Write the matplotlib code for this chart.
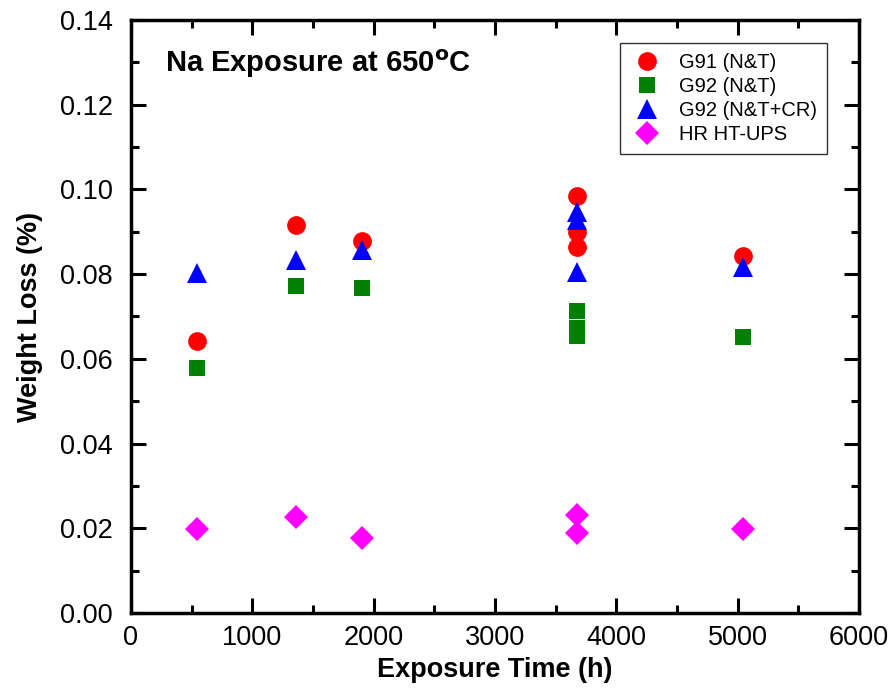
import numpy as np
import matplotlib
matplotlib.use('Agg')
import matplotlib.pyplot as plt
from matplotlib.ticker import MultipleLocator

plt.rcParams['font.family'] = ['Liberation Sans', 'DejaVu Sans']

# data
g91_t = [544, 1360, 1904, 3677, 3677, 3677, 5045]
g91_w = [0.0642, 0.0916, 0.0878, 0.0984, 0.0899, 0.0864, 0.0843]

g92_t = [544, 1360, 1904, 3677, 3677, 3677, 5045]
g92_w = [0.0578, 0.0772, 0.0767, 0.0713, 0.0673, 0.0653, 0.0651]

g92cr_t = [544, 1360, 1904, 3677, 3677, 3677, 5045]
g92cr_w = [0.0802, 0.0833, 0.0857, 0.0947, 0.0928, 0.0805, 0.0817]

ups_t = [544, 1360, 1904, 3677, 3677, 5045]
ups_w = [0.0198, 0.0227, 0.0177, 0.0231, 0.0189, 0.0198]

fig = plt.figure(figsize=(8.91, 6.91), dpi=100)
ax = fig.add_axes([0.147, 0.113, 0.817, 0.858])

ax.plot(g91_t, g91_w, 'o', color='red', ms=13.5, mew=0, label='G91 (N&T)')
ax.plot(g92_t, g92_w, 's', color='green', ms=12, mew=0, label='G92 (N&T)')
ax.plot(g92cr_t, g92cr_w, '^', color='blue', ms=15, mew=0, label='G92 (N&T+CR)')
ax.plot(ups_t, ups_w, 'D', color='magenta', ms=12.5, mew=0, label='HR HT-UPS')

ax.set_xlim(0, 6000)
ax.set_ylim(0, 0.14)
ax.xaxis.set_major_locator(MultipleLocator(1000))
ax.xaxis.set_minor_locator(MultipleLocator(500))
ax.yaxis.set_major_locator(MultipleLocator(0.02))
ax.yaxis.set_minor_locator(MultipleLocator(0.01))
ax.yaxis.set_major_formatter(matplotlib.ticker.FormatStrFormatter('%.2f'))
ax.tick_params(which='both', direction='in', top=True, right=True, width=2.2)
ax.tick_params(which='major', length=11, labelsize=19.5)
ax.tick_params(axis='y', which='major', pad=13)
ax.tick_params(axis='x', which='major', pad=9)
ax.tick_params(which='minor', length=6)
for s in ax.spines.values():
    s.set_linewidth(2.5)

ax.set_xlabel('Exposure Time (h)', fontsize=19.5, fontweight='bold', labelpad=4)
ax.set_ylabel('Weight Loss (%)', fontsize=19.5, fontweight='bold', labelpad=12)

ax.text(0.047, 0.927, 'Na Exposure at 650$^{\\mathbf{o}}$C', transform=ax.transAxes,
        fontsize=21, fontweight='bold', va='center')

leg = ax.legend(loc='upper right', bbox_to_anchor=(0.956, 0.961), borderaxespad=0,
                fontsize=14.5, frameon=True, fancybox=False, edgecolor='black',
                handletextpad=0.8, borderpad=0.5, labelspacing=0.25, handlelength=1.6)
leg.get_frame().set_linewidth(1.0)

fig.savefig('out.png', dpi=100)
